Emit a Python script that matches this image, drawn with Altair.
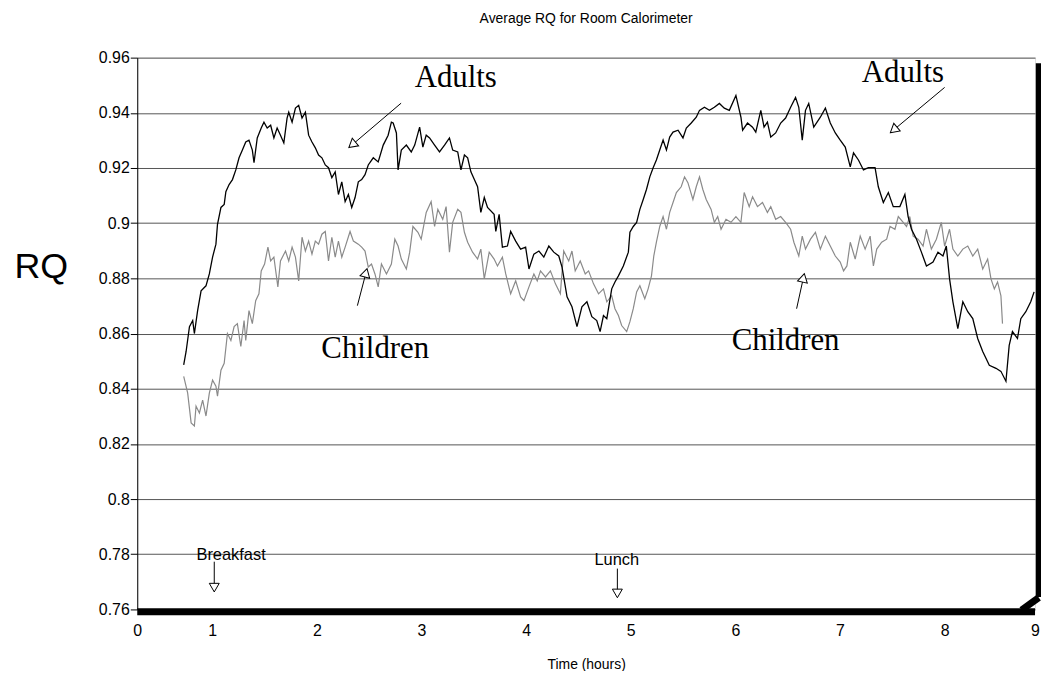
import altair as alt
import pandas as pd

# ---------------- data ----------------
adults_time = [
    0.727, 0.750, 0.782, 0.813, 0.829, 0.860, 0.893, 0.940, 0.972, 1.003,
    1.035, 1.050, 1.083, 1.114, 1.130, 1.161, 1.193, 1.225, 1.256, 1.288,
    1.320, 1.351, 1.383, 1.399, 1.430, 1.468, 1.494, 1.525, 1.558, 1.589,
    1.620, 1.652, 1.684, 1.715, 1.731, 1.763, 1.795, 1.826, 1.858, 1.890,
    1.921, 1.953, 1.985, 2.016, 2.048, 2.080, 2.111, 2.143, 2.175, 2.206,
    2.238, 2.270, 2.301, 2.333, 2.365, 2.396, 2.428, 2.460, 2.491, 2.539,
    2.586, 2.634, 2.681, 2.712, 2.729, 2.760, 2.776, 2.807, 2.855, 2.902,
    2.935, 2.982, 3.013, 3.045, 3.077, 3.125, 3.172, 3.220, 3.267, 3.298,
    3.346, 3.377, 3.410, 3.441, 3.472, 3.505, 3.536, 3.567, 3.600, 3.631,
    3.694, 3.710, 3.742, 3.773, 3.821, 3.852, 3.900, 3.947, 3.995, 4.027,
    4.074, 4.122, 4.169, 4.217, 4.264, 4.312, 4.343, 4.391, 4.438, 4.486,
    4.533, 4.581, 4.628, 4.675, 4.707, 4.739, 4.771, 4.818, 4.849, 4.882,
    4.929, 4.977, 4.992, 5.024, 5.056, 5.087, 5.119, 5.150, 5.182, 5.214,
    5.245, 5.277, 5.309, 5.341, 5.372, 5.404, 5.452, 5.499, 5.531, 5.578,
    5.626, 5.657, 5.704, 5.752, 5.799, 5.847, 5.894, 5.942, 6.005, 6.053,
    6.069, 6.116, 6.164, 6.195, 6.243, 6.274, 6.306, 6.338, 6.385, 6.433,
    6.480, 6.528, 6.575, 6.606, 6.639, 6.670, 6.701, 6.749, 6.812, 6.860,
    6.907, 6.955, 7.002, 7.050, 7.098, 7.129, 7.176, 7.224, 7.271, 7.335,
    7.366, 7.414, 7.462, 7.509, 7.572, 7.620, 7.651, 7.683, 7.731, 7.778,
    7.826, 7.889, 7.936, 7.984, 8.016, 8.047, 8.079, 8.126, 8.174, 8.221,
    8.269, 8.316, 8.364, 8.427, 8.491, 8.538, 8.586, 8.617, 8.648, 8.696,
    8.728, 8.776, 8.823, 8.855,
]
adults_rq = [
    0.8486, 0.8535, 0.8625, 0.8647, 0.8600, 0.8683, 0.8755, 0.8773, 0.8816, 0.8877,
    0.8924, 0.8996, 0.9057, 0.9068, 0.9114, 0.9140, 0.9158, 0.9193, 0.9237, 0.9265,
    0.9294, 0.9301, 0.9265, 0.9219, 0.9309, 0.9345, 0.9366, 0.9345, 0.9355, 0.9309,
    0.9345, 0.9319, 0.9291, 0.9381, 0.9402, 0.9366, 0.9417, 0.9427, 0.9381, 0.9402,
    0.9319, 0.9294, 0.9273, 0.9247, 0.9237, 0.9211, 0.9201, 0.9165, 0.9186, 0.9104,
    0.9150, 0.9078, 0.9104, 0.9057, 0.9093, 0.9150, 0.9158, 0.9176, 0.9211, 0.9237,
    0.9222, 0.9283, 0.9319, 0.9366, 0.9363, 0.9327, 0.9193, 0.9265, 0.9283, 0.9258,
    0.9283, 0.9348, 0.9276, 0.9319, 0.9309, 0.9283, 0.9258, 0.9283, 0.9309, 0.9265,
    0.9258, 0.9193, 0.9247, 0.9237, 0.9186, 0.9158, 0.9132, 0.9039, 0.9093, 0.9057,
    0.9032, 0.8970, 0.9032, 0.8913, 0.8917, 0.8970, 0.8935, 0.8906, 0.8913, 0.8834,
    0.8888, 0.8899, 0.8877, 0.8917, 0.8895, 0.8881, 0.8841, 0.8733, 0.8697, 0.8625,
    0.8697, 0.8715, 0.8661, 0.8647, 0.8607, 0.8665, 0.8654, 0.8762, 0.8787, 0.8809,
    0.8845, 0.8895, 0.8967, 0.8988, 0.9003, 0.9050, 0.9086, 0.9122, 0.9168, 0.9201,
    0.9229, 0.9265, 0.9301, 0.9265, 0.9312, 0.9330, 0.9337, 0.9309, 0.9345, 0.9363,
    0.9384, 0.9409, 0.9420, 0.9409, 0.9420, 0.9434, 0.9417, 0.9409, 0.9463, 0.9384,
    0.9337, 0.9363, 0.9348, 0.9330, 0.9409, 0.9348, 0.9366, 0.9312, 0.9327, 0.9363,
    0.9381, 0.9420, 0.9456, 0.9420, 0.9301, 0.9409, 0.9434, 0.9348, 0.9384, 0.9417,
    0.9363, 0.9327, 0.9301, 0.9276, 0.9204, 0.9255, 0.9229, 0.9193, 0.9201, 0.9201,
    0.9132, 0.9075, 0.9111, 0.9060, 0.9060, 0.9104, 0.9024, 0.8978, 0.8942, 0.8895,
    0.8845, 0.8859, 0.8895, 0.8881, 0.8917, 0.8798, 0.8715, 0.8618, 0.8715, 0.8679,
    0.8654, 0.8582, 0.8535, 0.8485, 0.8474, 0.8463, 0.8427, 0.8557, 0.8607, 0.8582,
    0.8654, 0.8679, 0.8715, 0.8751,
]

children_time = [
    0.727, 0.765, 0.798, 0.829, 0.845, 0.877, 0.908, 0.940, 0.972, 1.003,
    1.035, 1.050, 1.083, 1.114, 1.145, 1.178, 1.209, 1.240, 1.273, 1.304,
    1.320, 1.351, 1.383, 1.415, 1.446, 1.468, 1.500, 1.532, 1.558, 1.589,
    1.627, 1.652, 1.700, 1.731, 1.763, 1.795, 1.826, 1.858, 1.890, 1.921,
    1.953, 1.985, 2.016, 2.048, 2.080, 2.111, 2.143, 2.175, 2.206, 2.238,
    2.270, 2.317, 2.349, 2.396, 2.428, 2.460, 2.491, 2.522, 2.555, 2.586,
    2.617, 2.665, 2.712, 2.745, 2.776, 2.807, 2.855, 2.887, 2.918, 2.966,
    2.997, 3.045, 3.092, 3.125, 3.156, 3.203, 3.235, 3.267, 3.298, 3.346,
    3.377, 3.410, 3.441, 3.488, 3.536, 3.567, 3.600, 3.647, 3.694, 3.726,
    3.773, 3.805, 3.852, 3.900, 3.947, 3.979, 4.027, 4.074, 4.106, 4.137,
    4.185, 4.232, 4.280, 4.327, 4.359, 4.407, 4.438, 4.469, 4.517, 4.565,
    4.597, 4.644, 4.692, 4.739, 4.771, 4.818, 4.849, 4.882, 4.913, 4.961,
    4.992, 5.024, 5.056, 5.087, 5.134, 5.166, 5.198, 5.220, 5.245, 5.277,
    5.309, 5.341, 5.372, 5.404, 5.436, 5.482, 5.514, 5.546, 5.594, 5.626,
    5.657, 5.689, 5.721, 5.768, 5.799, 5.831, 5.863, 5.910, 5.958, 6.005,
    6.053, 6.084, 6.132, 6.164, 6.211, 6.259, 6.306, 6.338, 6.385, 6.433,
    6.480, 6.528, 6.559, 6.606, 6.639, 6.670, 6.718, 6.765, 6.812, 6.860,
    6.907, 6.955, 7.002, 7.034, 7.066, 7.098, 7.145, 7.193, 7.240, 7.288,
    7.319, 7.351, 7.398, 7.446, 7.478, 7.525, 7.557, 7.604, 7.636, 7.667,
    7.699, 7.746, 7.794, 7.826, 7.873, 7.921, 7.968, 8.000, 8.047, 8.079,
    8.126, 8.174, 8.221, 8.269, 8.316, 8.364, 8.411, 8.443, 8.475, 8.506,
    8.538, 8.553,
]
children_rq = [
    0.8445, 0.8384, 0.8276, 0.8265, 0.8337, 0.8312, 0.8359, 0.8301, 0.8384, 0.8431,
    0.8409, 0.8373, 0.8467, 0.8492, 0.8600, 0.8575, 0.8625, 0.8636, 0.8553, 0.8647,
    0.8575, 0.8683, 0.8636, 0.8719, 0.8744, 0.8827, 0.8852, 0.8913, 0.8863, 0.8877,
    0.8769, 0.8863, 0.8899, 0.8863, 0.8913, 0.8877, 0.8791, 0.8949, 0.8899, 0.8935,
    0.8888, 0.8935, 0.8924, 0.8960, 0.8970, 0.8863, 0.8949, 0.8877, 0.8935, 0.8877,
    0.8913, 0.8970, 0.8935, 0.8924, 0.8913, 0.8899, 0.8841, 0.8852, 0.8816, 0.8769,
    0.8852, 0.8816, 0.8852, 0.8942, 0.8917, 0.8870, 0.8834, 0.8895, 0.8988, 0.8967,
    0.8942, 0.9039, 0.9078, 0.8988, 0.9050, 0.9014, 0.9060, 0.8895, 0.9003, 0.9050,
    0.9039, 0.8967, 0.8931, 0.8895, 0.8870, 0.8906, 0.8798, 0.8895, 0.8870, 0.8845,
    0.8877, 0.8816, 0.8744, 0.8791, 0.8733, 0.8719, 0.8769, 0.8816, 0.8791, 0.8827,
    0.8805, 0.8827, 0.8780, 0.8744, 0.8899, 0.8863, 0.8899, 0.8827, 0.8863, 0.8816,
    0.8827, 0.8780, 0.8744, 0.8762, 0.8715, 0.8737, 0.8690, 0.8665, 0.8629, 0.8607,
    0.8643, 0.8690, 0.8751, 0.8773, 0.8726, 0.8762, 0.8809, 0.8881, 0.8931, 0.8988,
    0.9024, 0.8978, 0.9039, 0.9075, 0.9111, 0.9132, 0.9168, 0.9147, 0.9086, 0.9132,
    0.9168, 0.9122, 0.9086, 0.9050, 0.9003, 0.9024, 0.8978, 0.9014, 0.9003, 0.9024,
    0.9003, 0.9111, 0.9060, 0.9096, 0.9060, 0.9075, 0.9039, 0.9060, 0.9014, 0.9024,
    0.9003, 0.8978, 0.8931, 0.8881, 0.8953, 0.8906, 0.8942, 0.8967, 0.8906, 0.8953,
    0.8917, 0.8881, 0.8859, 0.8827, 0.8845, 0.8931, 0.8870, 0.8953, 0.8906, 0.8953,
    0.8845, 0.8906, 0.8931, 0.8942, 0.8988, 0.8978, 0.9024, 0.9003, 0.8988, 0.9024,
    0.8953, 0.8942, 0.8917, 0.8978, 0.8906, 0.8942, 0.9003, 0.8917, 0.8978, 0.8906,
    0.8881, 0.8906, 0.8917, 0.8881, 0.8906, 0.8834, 0.8870, 0.8798, 0.8762, 0.8787,
    0.8737, 0.8636,
]

# annotation labels and anchor points (time, RQ)
group_labels = ["Adults", "Adults", "Children", "Children"]
group_label_time = [3.327, 7.601, 2.558, 6.480]
group_label_rq = [0.9492, 0.9510, 0.8510, 0.8539]

meal_labels = ["Breakfast", "Lunch"]
meal_label_time = [1.180, 4.866]
meal_label_rq = [0.7780, 0.7762]

# arrows: start point, head point, head direction (degrees clockwise from up)
arrow_start_time = [2.805, 8.000, 2.387, 6.585, 1.019, 4.872]
arrow_start_rq = [0.9435, 0.9492, 0.8701, 0.8690, 0.7773, 0.7748]
arrow_head_time = [2.337, 7.513, 2.469, 6.650, 1.019, 4.872]
arrow_head_rq = [0.9284, 0.9338, 0.8820, 0.8802, 0.7679, 0.7658]
arrow_angle = [230, 230, 15, 13, 180, 180]

# axis ticks
x_tick_values = [0.283, 1, 2, 3, 4, 5, 6, 7, 8, 8.864]
y_tick_values = [round(0.76 + 0.005 * i, 3) for i in range(41)]
X_MIN, X_MAX = 0.283, 8.864
Y_MIN, Y_MAX = 0.76, 0.96

# ---------------- chart ----------------
SANS = "Liberation Sans"
SERIF = "Liberation Serif"

adults = pd.DataFrame({"t": adults_time, "rq": adults_rq})
children = pd.DataFrame({"t": children_time, "rq": children_rq})
groups = pd.DataFrame({"t": group_label_time, "rq": group_label_rq, "label": group_labels})
meals = pd.DataFrame({"t": meal_label_time, "rq": meal_label_rq, "label": meal_labels})
arrows = pd.DataFrame({
    "t": arrow_start_time, "rq": arrow_start_rq,
    "t2": arrow_head_time, "rq2": arrow_head_rq,
    "angle": arrow_angle,
})
heads = pd.DataFrame({"t": arrow_head_time, "rq": arrow_head_rq, "angle": arrow_angle})

major_test = "abs(datum.value * 50 - round(datum.value * 50)) < 0.01"

x_axis = alt.Axis(
    values=x_tick_values,
    labelExpr="datum.value < 0.5 ? '0' : (datum.value > 8.5 ? '9' : format(datum.value, 'd'))",
    labelFlush=False, labelOverlap=False, ticks=False, domain=False, grid=False,
    labelPadding=13, labelFont=SANS, labelFontSize=16, labelColor="black",
    title="Time (hours)", titleFont=SANS, titleFontSize=14, titleFontWeight="normal",
    titleColor="black", titlePadding=19,
)
y_axis = alt.Axis(
    values=y_tick_values,
    labelExpr=f"{major_test} ? format(datum.value, '~g') : ''",
    labelFont=SANS, labelFontSize=16, labelColor="black", labelPadding=1,
    labelOverlap=False,
    tickSize={"condition": {"test": major_test, "value": 7}, "value": 4},
    tickColor="black", domainColor="black",
    grid=True, gridColor="#555555",
    gridOpacity={"condition": {"test": major_test, "value": 1}, "value": 0},
    title="RQ", titleFont=SANS, titleFontSize=36, titleFontWeight="normal",
    titleColor="black", titleAngle=0, titleAlign="center", titleBaseline="middle",
    titleX=-97, titleY=210,
)

x_enc = alt.X("t:Q", scale=alt.Scale(domain=[X_MIN, X_MAX], nice=False, zero=False), axis=x_axis)
y_enc = alt.Y("rq:Q", scale=alt.Scale(domain=[Y_MIN, Y_MAX], nice=False, zero=False), axis=y_axis)

children_line = alt.Chart(children).mark_line(color="#8a8a8a", strokeWidth=1.2).encode(x=x_enc, y=y_enc)
adults_line = alt.Chart(adults).mark_line(color="black", strokeWidth=1.3).encode(x="t:Q", y="rq:Q")

# heavy frame shadow on the bottom and right
frame_bottom = pd.DataFrame({"t": [X_MIN], "t2": [X_MAX], "rq": [Y_MIN]})
frame_right = pd.DataFrame({"t": [X_MAX], "rq": [Y_MAX - 0.002], "rq2": [0.7645]})
frame_corner = pd.DataFrame({"t": [8.735], "t2": [8.900], "rq": [0.7598], "rq2": [0.7643]})

bottom_bar = alt.Chart(frame_bottom).mark_rule(
    color="black", strokeWidth=7, strokeCap="butt", yOffset=2.3
).encode(x="t:Q", x2="t2:Q", y="rq:Q")
right_bar = alt.Chart(frame_right).mark_rule(
    color="black", strokeWidth=5.5, strokeCap="butt", xOffset=3.5
).encode(x="t:Q", y="rq:Q", y2="rq2:Q")
corner_bar = alt.Chart(frame_corner).mark_rule(
    color="black", strokeWidth=7, strokeCap="butt"
).encode(x="t:Q", x2="t2:Q", y="rq:Q", y2="rq2:Q")

group_text = alt.Chart(groups).mark_text(
    font=SERIF, fontSize=31, color="black", align="center", baseline="alphabetic"
).encode(x="t:Q", y="rq:Q", text="label:N")
meal_text = alt.Chart(meals).mark_text(
    font=SANS, fontSize=16.5, color="black", align="center", baseline="alphabetic"
).encode(x="t:Q", y="rq:Q", text="label:N")

arrow_lines = alt.Chart(arrows).mark_rule(color="black", strokeWidth=1).encode(
    x="t:Q", y="rq:Q", x2="t2:Q", y2="rq2:Q"
)
arrow_heads = alt.Chart(heads).mark_point(
    shape="triangle-up", size=100, filled=True, fill="white", stroke="black",
    strokeWidth=1, opacity=1
).encode(x="t:Q", y="rq:Q", angle=alt.Angle("angle:Q", scale=None))

chart = alt.layer(
    children_line, adults_line, bottom_bar, right_bar, corner_bar,
    group_text, meal_text, arrow_lines, arrow_heads,
).properties(
    width=903,
    height=555,
    title=alt.TitleParams(
        text="Average RQ for Room Calorimeter", font=SANS, fontSize=14,
        fontWeight="normal", color="black", anchor="middle", offset=24,
    ),
    autosize=alt.AutoSizeParams(type="none"),
    padding={"left": 130, "top": 48, "right": 6, "bottom": 60},
).configure_view(stroke=None).configure(background="white")

chart.save("out.html", embed_options={"renderer": "svg", "actions": False})
